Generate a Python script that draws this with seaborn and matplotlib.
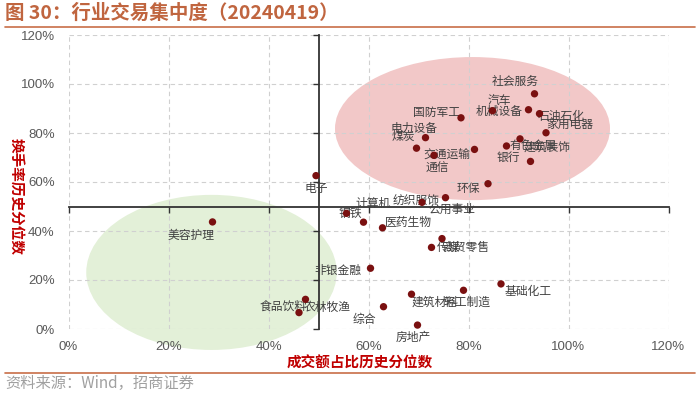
import matplotlib
matplotlib.use("Agg")
import matplotlib.pyplot as plt
from matplotlib.patches import Ellipse
from matplotlib.ticker import FuncFormatter
from matplotlib.lines import Line2D
import seaborn as sns
import pandas as pd

sns.set_theme(style="white")
plt.rcParams['font.family'] = ['Noto Sans CJK SC', 'DejaVu Sans']

# ---- data ----
industries = ["社会服务", "机械设备", "汽车", "石油石化", "家用电器", "国防军工", "电力设备",
              "煤炭", "通信", "交通运输", "银行", "有色金属", "建筑装饰", "环保", "电子",
              "纺织服饰", "计算机", "公用事业", "钢铁", "医药生物", "传媒", "商贸零售",
              "美容护理", "非银金融", "基础化工", "轻工制造", "建筑材料", "综合", "房地产",
              "农林牧渔", "食品饮料"]
turnover_share_pct = [93.2, 92.0, 84.8, 94.2, 95.5, 78.5, 71.4,
                      69.6, 73.1, 81.2, 87.6, 90.3, 92.4, 83.9, 49.5,
                      70.7, 55.6, 75.4, 59.0, 62.8, 74.7, 72.6,
                      28.8, 60.4, 86.5, 79.0, 68.6, 63.0, 69.8,
                      47.4, 46.1]
turnover_rate_pct = [96.0, 89.5, 89.1, 87.9, 80.1, 86.2, 78.1,
                     73.8, 70.9, 73.3, 74.7, 77.6, 68.4, 59.3, 62.6,
                     51.7, 47.2, 53.6, 43.6, 41.3, 36.9, 33.3,
                     43.7, 24.8, 18.4, 15.8, 14.2, 9.1, 1.6,
                     12.1, 6.7]
axis_ticks = [0, 20, 40, 60, 80, 100, 120]

# label offsets in pixels (dx right, dy down)
label_offsets = {
    "社会服务": (-19, -12), "汽车": (7, -10), "机械设备": (-29, 2), "石油石化": (22, 3),
    "家用电器": (24, -8), "国防军工": (-24, -5), "电力设备": (-11, -9), "煤炭": (-13, -12),
    "通信": (3, 13), "交通运输": (-28, 6), "银行": (2, 11), "有色金属": (13, 7),
    "建筑装饰": (17, -14), "环保": (-20, 5), "电子": (0, 13), "纺织服饰": (-6, -1),
    "计算机": (27, -10), "公用事业": (6, 12), "钢铁": (-13, -9), "医药生物": (26, -5),
    "传媒": (7, 9), "商贸零售": (34, 0), "美容护理": (-21, 13), "非银金融": (-33, 2),
    "基础化工": (27, 8), "建筑材料": (24, 8), "轻工制造": (4, 12), "综合": (-19, 13),
    "房地产": (-4, 12), "食品饮料": (-16, -6), "农林牧渔": (22, 8),
}

df = pd.DataFrame({"行业": industries, "x": turnover_share_pct, "y": turnover_rate_pct})

W, H = 700, 393
fig = plt.figure(figsize=(W / 100, H / 100), dpi=100)
ax = fig.add_axes([68.5 / W, 1 - 329 / H, 600 / W, 294 / H])
ax.set_xlim(0, 120)
ax.set_ylim(0, 120)

# ellipses
ax.add_patch(Ellipse((80.8, 81.8), 55.0, 58.4, facecolor="#F2C8C8", edgecolor="none", zorder=0.1))
ax.add_patch(Ellipse((28.6, 23.1), 50.1, 63.3, facecolor="#E3F0D8", edgecolor="none",
                     zorder=0.1, clip_on=False))

# grid
ax.set_axisbelow(True)
ax.set_xticks(axis_ticks)
ax.set_yticks(axis_ticks)
ax.grid(True, linestyle=(0, (4, 3)), color="#D0D0D0", linewidth=0.8)

# crossing axes at 50%
for side in ["top", "right"]:
    ax.spines[side].set_visible(False)
for side in ["left", "bottom"]:
    ax.spines[side].set_position(("data", 50))
    ax.spines[side].set_color("#333333")
    ax.spines[side].set_linewidth(1.3)
ax.tick_params(axis="both", direction="out", length=4, width=1.0, color="#333333",
               labelbottom=False, labelleft=False, bottom=True, left=True)

# tick labels on the outer edges
pct = FuncFormatter(lambda v, p: f"{v:.0f}%")
secx = ax.secondary_xaxis("bottom")
secx.set_xticks(axis_ticks)
secx.xaxis.set_major_formatter(pct)
secx.tick_params(length=0, pad=9, labelsize=9.5, labelcolor="#595959")
secx.spines["bottom"].set_visible(False)
secx.set_zorder(5)
secy = ax.secondary_yaxis("left")
secy.set_yticks(axis_ticks)
secy.yaxis.set_major_formatter(pct)
secy.tick_params(length=0, pad=10, labelsize=9.5, labelcolor="#595959")
secy.spines["left"].set_visible(False)
secy.set_zorder(5)
for lab in secx.get_xticklabels() + secy.get_yticklabels():
    lab.set_fontfamily(["Liberation Sans", "DejaVu Sans"])

# points
sns.scatterplot(data=df, x="x", y="y", ax=ax, color="#7A1010", s=28,
                edgecolor="none", zorder=4, legend=False)
ax.set_xlabel("")
ax.set_ylabel("")

# point labels
for name, xv, yv in zip(industries, turnover_share_pct, turnover_rate_pct):
    dx, dy = label_offsets[name]
    ax.annotate(name, (xv, yv), xytext=(dx * 0.72, -dy * 0.72), textcoords="offset points",
                ha="center", va="center", fontsize=8.5, color="#404040", zorder=3,
                annotation_clip=False)

# axis titles
fig.text(360 / W, 1 - 363 / H, "成交额占比历史分位数", ha="center", va="center",
         fontsize=10.5, fontweight="bold", color="#C00000")
fig.text(17 / W, 1 - 196 / H, "换手率历史分位数", ha="center", va="center",
         rotation=-90, fontsize=10.5, fontweight="bold", color="#C00000")

# title, rules and source
fig.text(5 / W, 1 - 13 / H, "图 30：行业交易集中度（20240419）", ha="left", va="center",
         fontsize=14, fontweight="bold", color="#C0653F")
fig.add_artist(Line2D([5 / W, 695 / W], [1 - 26.5 / H, 1 - 26.5 / H], color="#C86E48", lw=1.2))
fig.add_artist(Line2D([5 / W, 695 / W], [1 - 372.5 / H, 1 - 372.5 / H], color="#C86E48", lw=1.2))
fig.text(5 / W, 1 - 383 / H, "资料来源：Wind，招商证券", ha="left", va="center",
         fontsize=11, color="#A0A0A0")

fig.savefig("out.png", dpi=100)
